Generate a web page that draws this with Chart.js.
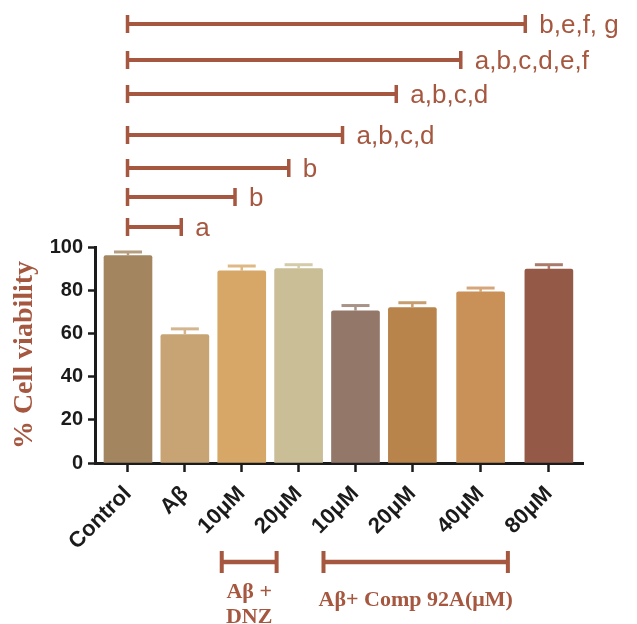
<!DOCTYPE html>
<html>
<head>
<meta charset="utf-8">
<script src="https://cdn.jsdelivr.net/npm/chart.js@4"></script>
<style>
  html, body { margin: 0; padding: 0; background: #ffffff; }
  #wrap { width: 637px; height: 624px; }
</style>
</head>
<body>
<div id="wrap"><canvas id="c" width="637" height="624"></canvas></div>
<script>
// Cell viability (MTT) – mean ± SEM
const categories = ['Control', 'Aβ', '10μM', '20μM', '10μM', '20μM', '40μM', '80μM'];
const viability  = [96.0, 59.5, 89.0, 90.0, 70.5, 72.0, 79.2, 89.8];
const sem        = [1.7, 2.6, 2.2, 1.8, 2.4, 2.2, 1.8, 2.0];
const yTicks     = [0, 20, 40, 60, 80, 100];

// significance brackets, all drawn from Control to the bar named by index
const sigTargets = [1, 2, 3, 4, 5, 6, 7];
const sigLabels  = ['a', 'b', 'b', 'a,b,c,d', 'a,b,c,d', 'a,b,c,d,e,f', 'b,e,f, g'];

// treatment groups under the axis
const groupFirst  = [2, 4];
const groupLast   = [3, 7];
const groupLabels = [['Aβ +', 'DNZ'], ['Aβ+ Comp 92A(μM)']];

// ---- styling / layout ----
const barColors = ['#a38660', '#c8a474', '#d6a767', '#c9be96', '#93786a', '#b9844c', '#c99057', '#955a47'];
const BROWN = '#a5573f';
const AXIS = '#1b1b1b';

// slot spacing along x: the last two doses sit a little further apart
const slotGaps = [1, 1, 1, 1, 1, 1.2, 1.2];
const slots = [0];
slotGaps.forEach(g => slots.push(+(slots[slots.length - 1] + g).toFixed(3)));

const sigRowY = [227, 197, 168, 135, 94, 60, 24];

function tint(hex, amt) {
  const n = parseInt(hex.slice(1), 16);
  const r = (n >> 16) & 255, g = (n >> 8) & 255, b = n & 255;
  const m = c => Math.round(c + (255 - c) * amt);
  return `rgb(${m(r)},${m(g)},${m(b)})`;
}

const errorBars = {
  id: 'errorBars',
  afterDatasetsDraw(chart) {
    const { ctx, scales: { y } } = chart;
    const meta = chart.getDatasetMeta(0);
    ctx.save();
    meta.data.forEach((bar, i) => {
      const yTop = y.getPixelForValue(viability[i]);
      const yErr = y.getPixelForValue(viability[i] + sem[i]);
      ctx.strokeStyle = tint(barColors[i], 0.2);
      ctx.lineCap = 'butt';
      ctx.lineWidth = 2.5;
      ctx.beginPath();
      ctx.moveTo(bar.x, yTop);
      ctx.lineTo(bar.x, yErr);
      ctx.stroke();
      ctx.lineWidth = 3;
      ctx.beginPath();
      ctx.moveTo(bar.x - 14, yErr);
      ctx.lineTo(bar.x + 14, yErr);
      ctx.stroke();
    });
    ctx.restore();
  }
};

function hBracket(ctx, x0, x1, y, half, lw, cw) {
  ctx.lineWidth = lw;
  ctx.beginPath();
  ctx.moveTo(x0, y);
  ctx.lineTo(x1, y);
  ctx.stroke();
  ctx.lineWidth = cw;
  ctx.beginPath();
  ctx.moveTo(x0, y - half);
  ctx.lineTo(x0, y + half);
  ctx.moveTo(x1, y - half);
  ctx.lineTo(x1, y + half);
  ctx.stroke();
}

const annotations = {
  id: 'annotations',
  afterDraw(chart) {
    const { ctx, scales: { x, x2 } } = chart;
    ctx.save();
    ctx.strokeStyle = BROWN;
    ctx.fillStyle = BROWN;
    ctx.lineCap = 'butt';

    // significance brackets
    ctx.font = '26px "Liberation Sans", Arial, sans-serif';
    ctx.textAlign = 'left';
    ctx.textBaseline = 'alphabetic';
    sigTargets.forEach((t, k) => {
      const x0 = x2.getPixelForValue(slots[0]);
      const x1 = x2.getPixelForValue(slots[t]);
      const yy = sigRowY[k];
      hBracket(ctx, x0, x1, yy, 9, 4, 3.5);
      ctx.fillText(sigLabels[k], x1 + 14, yy + 9);
    });

    // group brackets below the category labels
    const shifts = [[-20, -22], [-32, -41]];
    ctx.font = 'bold 22px "Liberation Serif", "Times New Roman", serif';
    ctx.textAlign = 'center';
    groupFirst.forEach((f, k) => {
      const x0 = x.getPixelForValue(slots[f]) + shifts[k][0];
      const x1 = x.getPixelForValue(slots[groupLast[k]]) + shifts[k][1];
      hBracket(ctx, x0, x1, 562, 11, 4.5, 4);
      const cx = (x0 + x1) / 2;
      const lines = groupLabels[k];
      if (lines.length === 1) {
        ctx.fillText(lines[0], cx, 606);
      } else {
        lines.forEach((s, j) => ctx.fillText(s, cx, 598 + j * 25));
      }
    });
    ctx.restore();
  }
};

const tickFont = { family: '"Liberation Sans", Arial, sans-serif', weight: 'bold', size: 20 };

new Chart(document.getElementById('c'), {
  type: 'bar',
  data: {
    datasets: [{
      data: slots.map((sx, i) => ({ x: sx, y: viability[i] })),
      backgroundColor: barColors,
      barThickness: 48,
      borderRadius: 2,
      borderSkipped: 'start'
    }]
  },
  options: {
    responsive: false,
    animation: false,
    devicePixelRatio: 1,
    layout: { padding: { top: 247, right: 54, left: 0, bottom: 0 } },
    plugins: { legend: { display: false }, tooltip: { enabled: false } },
    scales: {
      x: {
        type: 'linear',
        min: -0.58,
        max: 8,
        offset: false,
        grid: { offset: false, drawOnChartArea: false, drawTicks: true, tickLength: 9, tickWidth: 2.5, tickColor: AXIS },
        border: { display: true, color: AXIS, width: 3 },
        afterBuildTicks: s => { s.ticks = slots.map(v => ({ value: v })); },
        ticks: {
          autoSkip: false,
          minRotation: 45,
          maxRotation: 45,
          padding: 9,
          color: AXIS,
          font: { family: '"Liberation Sans", Arial, sans-serif', weight: 'bold', size: 22 },
          callback: v => {
            const i = slots.findIndex(p => Math.abs(p - v) < 1e-6);
            return i >= 0 ? categories[i] : '';
          }
        },
        afterFit: s => { s.height = 161; }
      },
      // companion scale used to lay out the significance brackets above the plot
      x2: {
        type: 'linear',
        position: 'top',
        min: -0.605,
        max: 8.474,
        offset: false,
        grid: { display: false, drawTicks: false, offset: false },
        border: { display: false },
        ticks: { display: false },
        afterFit: s => { s.height = 0; }
      },
      y: {
        min: 0,
        max: 100,
        afterBuildTicks: s => { s.ticks = yTicks.map(v => ({ value: v })); },
        grid: { drawOnChartArea: false, drawTicks: true, tickLength: 7, tickWidth: 2.5, tickColor: AXIS },
        border: { display: true, color: AXIS, width: 3 },
        ticks: { color: AXIS, font: tickFont, padding: 5 },
        title: {
          display: true,
          text: '% Cell viability',
          color: BROWN,
          font: { family: '"Liberation Serif", "Times New Roman", serif', weight: 'bold', size: 28 },
          padding: { top: 8, bottom: 0 }
        },
        afterFit: s => { s.width = 95; }
      }
    }
  },
  plugins: [errorBars, annotations]
});
</script>
</body>
</html>
